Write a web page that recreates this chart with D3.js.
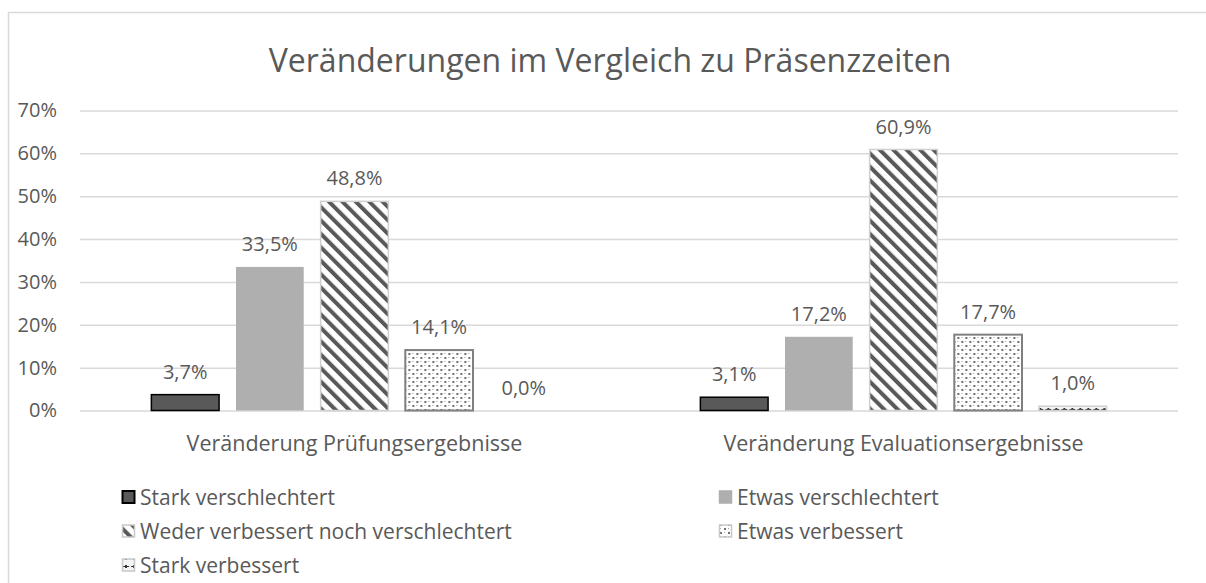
<!DOCTYPE html>
<html>
<head>
<meta charset="utf-8">
<script src="https://d3js.org/d3.v7.min.js"></script>
<style>
	body { margin: 0; background: #fff; }
	text { font-family: "Open Sans", sans-serif; fill: #595959; }
</style>
</head>
<body>
<svg id="chart"></svg>
<script>
/* Grouped bar chart: Veränderungen im Vergleich zu Präsenzzeiten */

// Chart data
var categories = ["Veränderung Prüfungsergebnisse", "Veränderung Evaluationsergebnisse"];
var series = ["Stark verschlechtert", "Etwas verschlechtert", "Weder verbessert noch verschlechtert", "Etwas verbessert", "Stark verbessert"];
var pruefung = [0.037, 0.335, 0.488, 0.141, 0.000];
var evaluation = [0.031, 0.172, 0.609, 0.177, 0.010];
var yTicks = [0, 0.1, 0.2, 0.3, 0.4, 0.5, 0.6, 0.7];
var title = "Veränderungen im Vergleich zu Präsenzzeiten";

// Static variables for svg attributes
var svg_width = 1206, svg_height = 583;
var plot = { left: 80, right: 1178, top: 110.5, bottom: 410.5 };

// Fill / stroke per series
var fills = ["#595959", "#afafaf", "url(#stripes)", "url(#dots)", "url(#crosses)"];
var strokes = ["#000", "none", "#d0d0d0", "#808080", "#d0d0d0"];
var strokeWidths = [1.5, 0, 1.5, 2, 1.5];

var svg = d3.select("#chart")
	.attr("width", svg_width)
	.attr("height", svg_height);

// Patterns
var defs = svg.append("defs");

var stripes = defs.append("pattern")
	.attr("id", "stripes")
	.attr("patternUnits", "userSpaceOnUse")
	.attr("width", 9.5)
	.attr("height", 9.5)
	.attr("patternTransform", "rotate(-45)");
stripes.append("rect").attr("width", 9.5).attr("height", 9.5).attr("fill", "#fff");
stripes.append("rect").attr("width", 4).attr("height", 9.5).attr("fill", "#595959");

var dots = defs.append("pattern")
	.attr("id", "dots")
	.attr("patternUnits", "userSpaceOnUse")
	.attr("width", 8)
	.attr("height", 8);
dots.append("rect").attr("width", 8).attr("height", 8).attr("fill", "#fff");
dots.append("rect").attr("x", 1).attr("y", 1).attr("width", 2).attr("height", 2).attr("fill", "#6e6e6e");
dots.append("rect").attr("x", 5).attr("y", 5).attr("width", 2).attr("height", 2).attr("fill", "#6e6e6e");
dots.append("rect").attr("x", 5).attr("y", 1).attr("width", 1).attr("height", 1).attr("fill", "#a0a0a0");
dots.append("rect").attr("x", 1).attr("y", 5).attr("width", 1).attr("height", 1).attr("fill", "#a0a0a0");

var crosses = defs.append("pattern")
	.attr("id", "crosses")
	.attr("patternUnits", "userSpaceOnUse")
	.attr("width", 8)
	.attr("height", 8);
crosses.append("rect").attr("width", 8).attr("height", 8).attr("fill", "#f4f4f4");
crosses.append("rect").attr("x", 3).attr("y", 0).attr("width", 2).attr("height", 3).attr("fill", "#333");
crosses.append("rect").attr("x", 1).attr("y", 1).attr("width", 6).attr("height", 1).attr("fill", "#333");

// Outer chart frame (cut off on the right and bottom)
svg.append("path")
	.attr("d", "M8.5," + svg_height + "V12.5H" + svg_width)
	.attr("fill", "none")
	.attr("stroke", "#d9d9d9")
	.attr("stroke-width", 1.5);

// Scales
var x0 = d3.scaleBand()
	.domain(categories)
	.range([plot.left, plot.right])
	.paddingInner(0.26)
	.paddingOuter(0.13);

var x1 = d3.scaleBand()
	.domain(series)
	.range([0, x0.bandwidth()])
	.paddingInner(0.2);

var y = d3.scaleLinear()
	.domain([0, 0.7])
	.range([plot.bottom, plot.top]);

var fmtAxis = function (d) { return Math.round(d * 100) + "%"; };
var fmtLabel = function (d) { return (d * 100).toFixed(1).replace(".", ",") + "%"; };

// Gridlines + y labels
var yAxis = svg.append("g")
	.attr("class", "y_axis")
	.attr("transform", "translate(" + plot.left + ",0)")
	.call(d3.axisLeft(y)
		.tickValues(yTicks)
		.tickSize(-(plot.right - plot.left))
		.tickPadding(23)
		.tickFormat(fmtAxis));
yAxis.select(".domain").remove();
yAxis.selectAll(".tick line")
	.attr("stroke", "#d9d9d9")
	.attr("stroke-width", 1.5);
yAxis.selectAll(".tick text")
	.attr("fill", "#595959")
	.style("font-size", "20px")
	.style("font-family", "'Open Sans', sans-serif");

// Title
svg.append("text")
	.attr("x", 610)
	.attr("y", 72)
	.attr("text-anchor", "middle")
	.style("font-size", "32px")
	.text(title);

// Bars
var rows = categories.map(function (c, i) {
	var vals = i == 0 ? pruefung : evaluation;
	return { category: c, values: vals };
});

var groups = svg.selectAll(".group")
	.data(rows)
	.enter().append("g")
	.attr("class", "group")
	.attr("transform", function (d) { return "translate(" + x0(d.category) + ",0)"; });

var bars = groups.selectAll(".bar")
	.data(function (d) {
		return d.values.map(function (v, j) { return { series: series[j], idx: j, value: v }; });
	})
	.enter();

bars.filter(function (d) { return d.value > 0; })
	.append("rect")
	.attr("class", "bar")
	.attr("x", function (d) { return x1(d.series); })
	.attr("y", function (d) { return y(d.value); })
	.attr("width", x1.bandwidth())
	.attr("height", function (d) { return y(0) - y(d.value); })
	.attr("fill", function (d) { return fills[d.idx]; })
	.attr("stroke", function (d) { return strokes[d.idx]; })
	.attr("stroke-width", function (d) { return strokeWidths[d.idx]; });

// Data labels
bars.append("text")
	.attr("x", function (d) { return x1(d.series) + x1.bandwidth() / 2; })
	.attr("y", function (d) { return y(d.value) - 16; })
	.attr("text-anchor", "middle")
	.style("font-size", "20px")
	.text(function (d) { return fmtLabel(d.value); });

// Category labels
svg.selectAll(".cat")
	.data(categories)
	.enter().append("text")
	.attr("class", "cat")
	.attr("x", function (d) { return x0(d) + x0.bandwidth() / 2; })
	.attr("y", 451)
	.attr("text-anchor", "middle")
	.style("font-size", "21.5px")
	.text(function (d) { return d; });

// Legend (two columns)
var legend = svg.selectAll(".legend")
	.data(series)
	.enter().append("g")
	.attr("class", "legend")
	.attr("transform", function (d, i) {
		return "translate(" + (i % 2 == 0 ? 122 : 719) + "," + (497 + Math.floor(i / 2) * 34) + ")";
	});

legend.append("rect")
	.attr("x", 0.5)
	.attr("y", -6)
	.attr("width", 12)
	.attr("height", 12)
	.attr("fill", function (d, i) { return fills[i]; })
	.attr("stroke", function (d, i) { return i == 1 ? "#afafaf" : (i == 0 ? "#000" : "#c8c8c8"); })
	.attr("stroke-width", function (d, i) { return i == 0 ? 2 : 1.5; });

legend.append("text")
	.attr("x", 18)
	.attr("y", 7.5)
	.style("font-size", "21px")
	.text(function (d) { return d; });
</script>
</body>
</html>
